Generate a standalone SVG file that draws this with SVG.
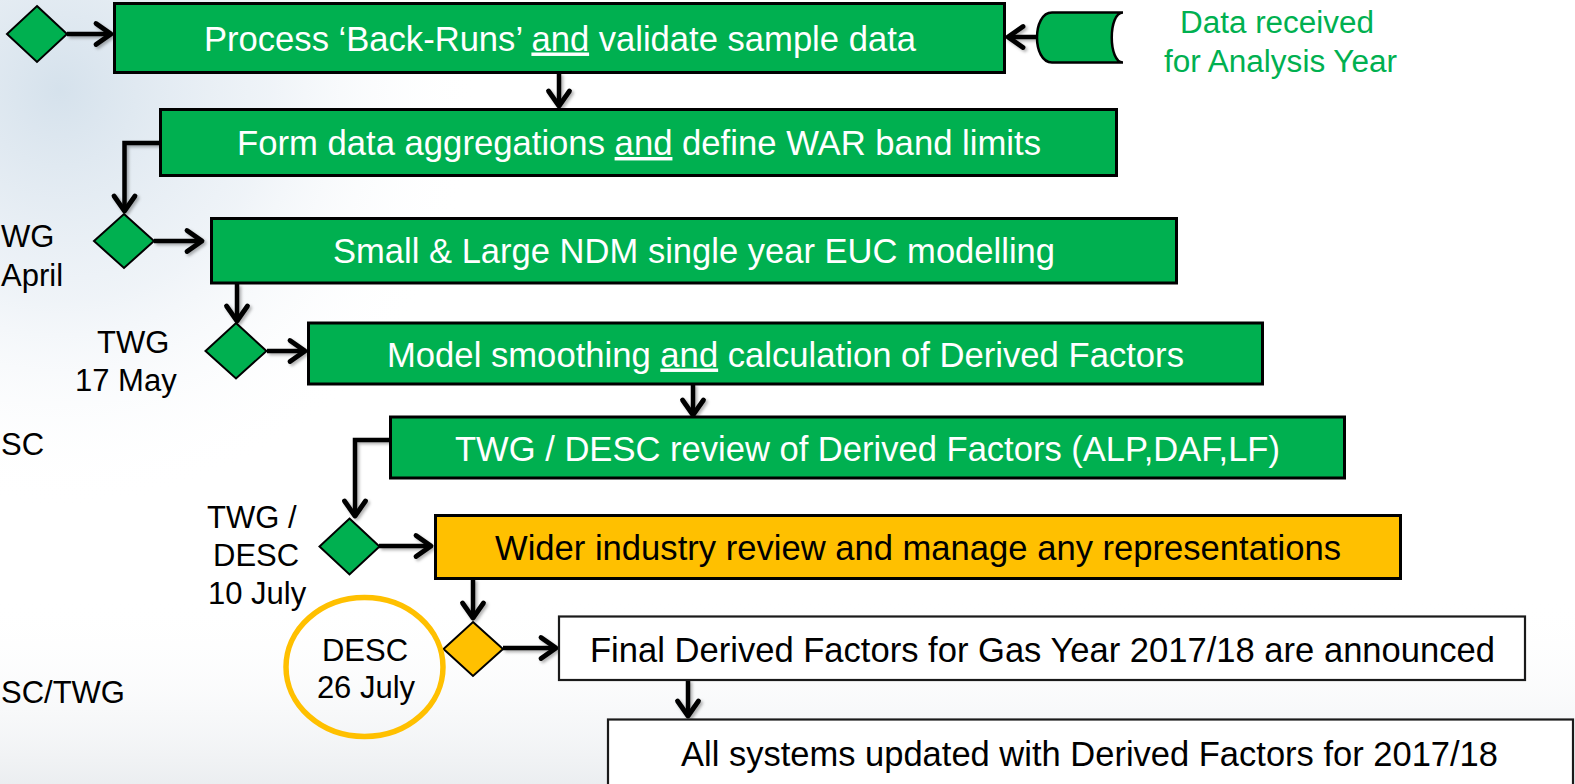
<svg xmlns="http://www.w3.org/2000/svg" width="1575" height="784" viewBox="0 0 1575 784">
<defs>
<radialGradient id="bgTL" cx="60" cy="90" r="420" gradientUnits="userSpaceOnUse">
<stop offset="0" stop-color="#d3e0eb" stop-opacity="0.95"/>
<stop offset="0.5" stop-color="#e2eaf2" stop-opacity="0.55"/>
<stop offset="1" stop-color="#ffffff" stop-opacity="0"/>
</radialGradient>
<linearGradient id="bgB" x1="0" y1="0" x2="0" y2="1">
<stop offset="0" stop-color="#ffffff" stop-opacity="0"/>
<stop offset="1" stop-color="#e9ecef" stop-opacity="0.9"/>
</linearGradient>
<filter id="sh" x="-20%" y="-20%" width="140%" height="140%">
<feDropShadow dx="2" dy="2" stdDeviation="1.5" flood-color="#000" flood-opacity="0.3"/>
</filter>
<marker id="ah" viewBox="-22 -15 28 30" refX="0" refY="0" markerWidth="28" markerHeight="30" orient="auto" markerUnits="userSpaceOnUse">
<path d="M-15,-10.5 L0,0 L-15,10.5" fill="none" stroke="#000" stroke-width="4.8" stroke-linecap="round" stroke-linejoin="round"/>
</marker>
<style>
.box{stroke:#000;stroke-width:3}
.g{fill:#00B050}
.o{fill:#FFC000}
.w{fill:#ffffff;stroke:#1a1a1a;stroke-width:2.2}
.dia{stroke:#000;stroke-width:2}
.bt{font-family:"Liberation Sans",Arial,sans-serif;font-size:34.5px}
.wt{fill:#ffffff}
.kt{fill:#000000}
.lbl{font-family:"Liberation Sans",Arial,sans-serif;font-size:31px;fill:#000}
.gt{font-family:"Liberation Sans",Arial,sans-serif;font-size:31px;fill:#00B050}
.c{fill:none;stroke:#000;stroke-width:4.5;stroke-linejoin:miter}
</style>
</defs>
<rect x="0" y="0" width="1575" height="784" fill="#ffffff"/>
<rect x="0" y="0" width="1575" height="784" fill="url(#bgTL)"/>
<rect x="0" y="600" width="1575" height="184" fill="url(#bgB)"/>

<g id="connectors" filter="url(#sh)">
<path class="c" d="M67,34 H111" marker-end="url(#ah)"/>
<path class="c" d="M1038,37 H1008" marker-end="url(#ah)"/>
<path class="c" d="M559,73 V106" marker-end="url(#ah)"/>
<path class="c" d="M160,143 H124.5 V211" marker-end="url(#ah)"/>
<path class="c" d="M154,241 H202" marker-end="url(#ah)"/>
<path class="c" d="M237,284 V321" marker-end="url(#ah)"/>
<path class="c" d="M267,351 H305" marker-end="url(#ah)"/>
<path class="c" d="M693,384 V415" marker-end="url(#ah)"/>
<path class="c" d="M390,440 H355 V516" marker-end="url(#ah)"/>
<path class="c" d="M379,546 H431" marker-end="url(#ah)"/>
<path class="c" d="M473,579 V618" marker-end="url(#ah)"/>
<path class="c" d="M503,648 H556" marker-end="url(#ah)"/>
<path class="c" d="M688,680 V716" marker-end="url(#ah)"/>
</g>

<g id="d1"><polygon class="dia g" points="37,6 67,34 37,62 7,34"/></g>
<g id="d2"><polygon class="dia g" points="124,214 154,241 124,268 94,241"/></g>
<g id="d3"><polygon class="dia g" points="236,323 266.5,351 236,378.5 205.5,351"/></g>
<g id="d4"><polygon class="dia g" points="349.5,518.5 379.5,546.5 349.5,574.5 319.5,546.5"/></g>
<g id="d5"><polygon class="dia o" points="473,622 503,649 473,676 443.5,649"/></g>

<g id="src">
<path class="g" d="M1052,12.5 H1123 C1108,12.5 1108,62.5 1123,62.5 H1052 C1032,62.5 1032,12.5 1052,12.5 Z" stroke="#000" stroke-width="2.5"/>
</g>
<g id="src-label">
<text class="gt" x="1180" y="33" textLength="194" lengthAdjust="spacingAndGlyphs">Data received</text>
<text class="gt" x="1164" y="71.5" textLength="233" lengthAdjust="spacingAndGlyphs">for Analysis Year</text>
</g>

<g id="b1">
<rect class="box g" x="114.5" y="3.5" width="890" height="69"/>
<text class="bt wt" x="204" y="50.5" textLength="712" lengthAdjust="spacingAndGlyphs">Process ‘Back-Runs’ <tspan text-decoration="underline">and</tspan> validate sample data</text>
</g>
<g id="b2">
<rect class="box g" x="160.5" y="109.5" width="956" height="66"/>
<text class="bt wt" x="237" y="155" textLength="804" lengthAdjust="spacingAndGlyphs">Form data aggregations <tspan text-decoration="underline">and</tspan> define WAR band limits</text>
</g>
<g id="b3">
<rect class="box g" x="211.5" y="218.5" width="965" height="64.5"/>
<text class="bt wt" x="333" y="262.5" textLength="722" lengthAdjust="spacingAndGlyphs">Small &amp; Large NDM single year EUC modelling</text>
</g>
<g id="b4">
<rect class="box g" x="308.5" y="323" width="954" height="61"/>
<text class="bt wt" x="387" y="366.5" textLength="797" lengthAdjust="spacingAndGlyphs">Model smoothing <tspan text-decoration="underline">and</tspan> calculation of Derived Factors</text>
</g>
<g id="b5">
<rect class="box g" x="390.5" y="417" width="954" height="61"/>
<text class="bt wt" x="455" y="460.5" textLength="825" lengthAdjust="spacingAndGlyphs">TWG / DESC review of Derived Factors (ALP,DAF,LF)</text>
</g>
<g id="b6">
<rect class="box o" x="435.5" y="515.5" width="965" height="63"/>
<text class="bt kt" x="495" y="560" textLength="846" lengthAdjust="spacingAndGlyphs">Wider industry review and manage any representations</text>
</g>
<g id="b7">
<rect class="w" x="559" y="616.5" width="966" height="63.5"/>
<text class="bt kt" x="590" y="661.5" textLength="905" lengthAdjust="spacingAndGlyphs">Final Derived Factors for Gas Year 2017/18 are announced</text>
</g>
<g id="b8">
<rect class="w" x="608" y="719.5" width="965" height="72"/>
<text class="bt kt" x="681" y="766" textLength="817" lengthAdjust="spacingAndGlyphs">All systems updated with Derived Factors for 2017/18</text>
</g>

<g id="desc-circle">
<ellipse cx="364.5" cy="667" rx="78.5" ry="69.5" fill="none" stroke="#FFC000" stroke-width="5.5"/>
<text class="lbl" x="365" y="661" text-anchor="middle">DESC</text>
<text class="lbl" x="366" y="698" text-anchor="middle">26 July</text>
</g>

<g id="labels">
<text class="lbl" x="1" y="246.5">WG</text>
<text class="lbl" x="1" y="285.5">April</text>
<text class="lbl" x="97" y="353">TWG</text>
<text class="lbl" x="75" y="390.5">17 May</text>
<text class="lbl" x="1" y="454.5">SC</text>
<text class="lbl" x="207" y="527.5">TWG /</text>
<text class="lbl" x="213" y="565.5">DESC</text>
<text class="lbl" x="208" y="604">10 July</text>
<text class="lbl" x="1" y="703">SC/TWG</text>
</g>
</svg>
